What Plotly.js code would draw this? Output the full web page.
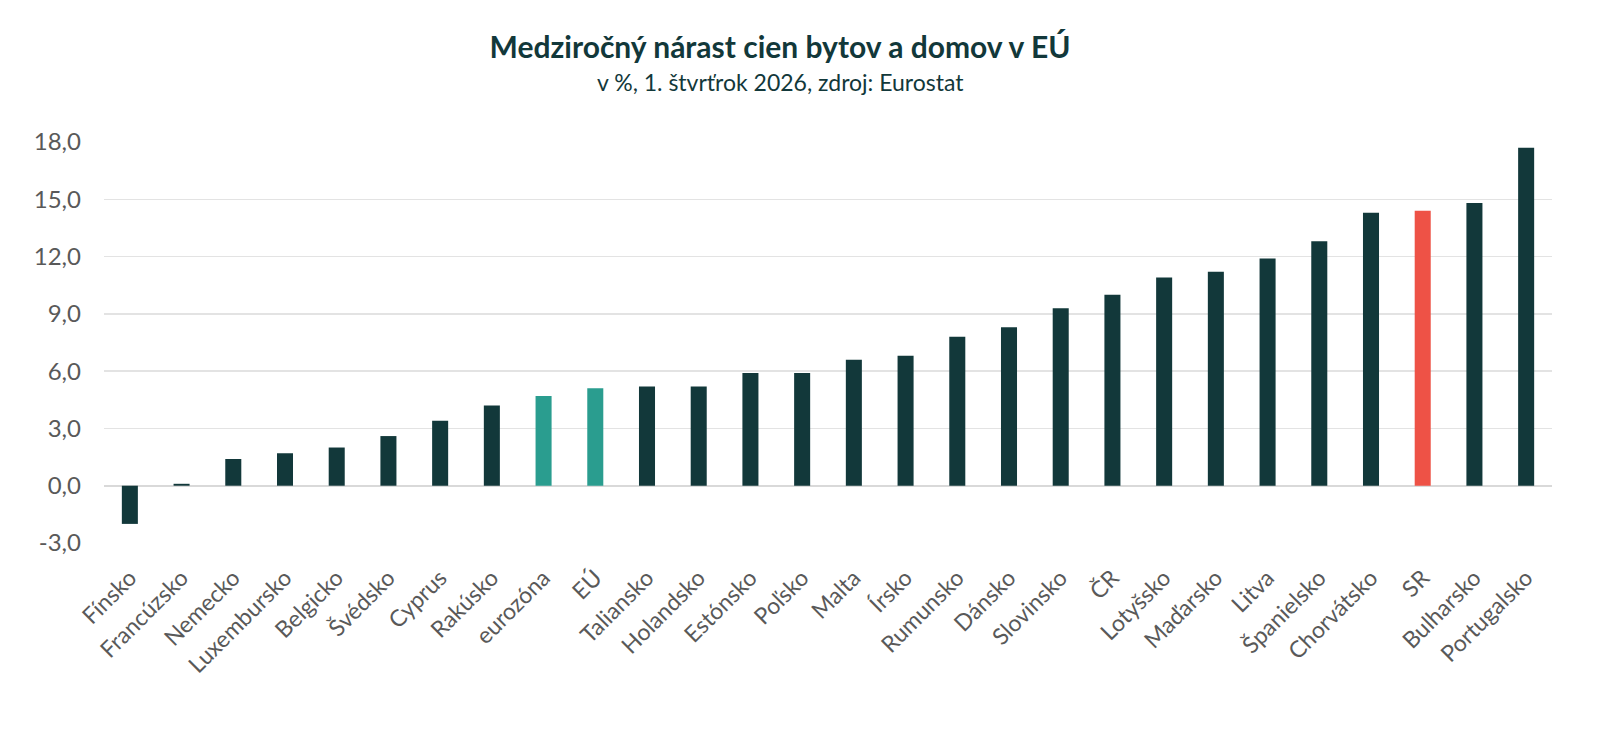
<!DOCTYPE html>
<html>
<head>
<meta charset="utf-8">
<script src="https://cdn.plot.ly/plotly-3.0.1.min.js"></script>
<style>
  html, body { margin: 0; padding: 0; background: #ffffff; }
  #chart { width: 1600px; height: 734px; }
</style>
</head>
<body>
<div id="chart"></div>
<script>
// medziročná zmena cien bytov a domov, v %
const countries = [
  "Fínsko", "Francúzsko", "Nemecko", "Luxembursko", "Belgicko", "Švédsko",
  "Cyprus", "Rakúsko", "eurozóna", "EÚ", "Taliansko", "Holandsko",
  "Estónsko", "Poľsko", "Malta", "Írsko", "Rumunsko", "Dánsko",
  "Slovinsko", "ČR", "Lotyšsko", "Maďarsko", "Litva", "Španielsko",
  "Chorvátsko", "SR", "Bulharsko", "Portugalsko"
];
const growth = [
  -2.0, 0.1, 1.4, 1.7, 2.0, 2.6,
  3.4, 4.2, 4.7, 5.1, 5.2, 5.2,
  5.9, 5.9, 6.6, 6.8, 7.8, 8.3,
  9.3, 10.0, 10.9, 11.2, 11.9, 12.8,
  14.3, 14.4, 14.8, 17.7
];
const aggregates = ["eurozóna", "EÚ"];
const highlight = "SR";
const yTicks = [-3, 0, 3, 6, 9, 12, 15, 18];

const DARK = "#12383a";
const TEAL = "#2a9d8f";
const RED = "#ee5246";
const GREY = "#595959";

const colors = countries.map(c => {
  if (c === highlight) return RED;
  if (aggregates.indexOf(c) >= 0) return TEAL;
  return DARK;
});

const data = [{
  type: "bar",
  x: countries,
  y: growth,
  marker: { color: colors },
  hoverinfo: "x+y"
}];

const layout = {
  width: 1600,
  height: 734,
  paper_bgcolor: "#ffffff",
  plot_bgcolor: "#ffffff",
  margin: { l: 104, r: 48, t: 142, b: 191 },
  bargap: 0.69,
  showlegend: false,
  font: { family: "Lato, 'Open Sans', sans-serif", color: GREY },
  title: {
    text: "<b>Medziročný nárast cien bytov a domov v EÚ</b>",
    font: { family: "Lato, 'Open Sans', sans-serif", size: 30, color: DARK },
    xref: "container", x: 0.4875, xanchor: "center",
    yref: "container", y: 0.935, yanchor: "middle"
  },
  annotations: [{
    text: "v %, 1. štvrťrok 2026, zdroj: Eurostat",
    xref: "paper", yref: "paper",
    x: (780 - 104) / 1448, xanchor: "center",
    y: 1 + (142 - 82) / 400, yanchor: "middle",
    showarrow: false,
    font: { family: "Lato, 'Open Sans', sans-serif", size: 23, color: DARK }
  }],
  xaxis: {
    type: "category",
    tickangle: -45,
    tickfont: { size: 23, color: GREY },
    showgrid: false,
    showline: false,
    ticks: "",
    ticklabelstandoff: 16,
    automargin: false
  },
  yaxis: {
    range: [-3, 18],
    tickvals: yTicks,
    ticktext: yTicks.map(v => v.toFixed(1).replace(".", ",")),
    tickfont: { size: 24, color: GREY },
    showgrid: true,
    gridcolor: "#e3e3e3",
    gridwidth: 1.5,
    zeroline: true,
    zerolinecolor: "#d9d9d9",
    zerolinewidth: 2,
    showline: false,
    ticks: "",
    ticklabelstandoff: 22,
    automargin: false
  }
};

Plotly.newPlot("chart", data, layout, { displayModeBar: false, staticPlot: true });
</script>
</body>
</html>
